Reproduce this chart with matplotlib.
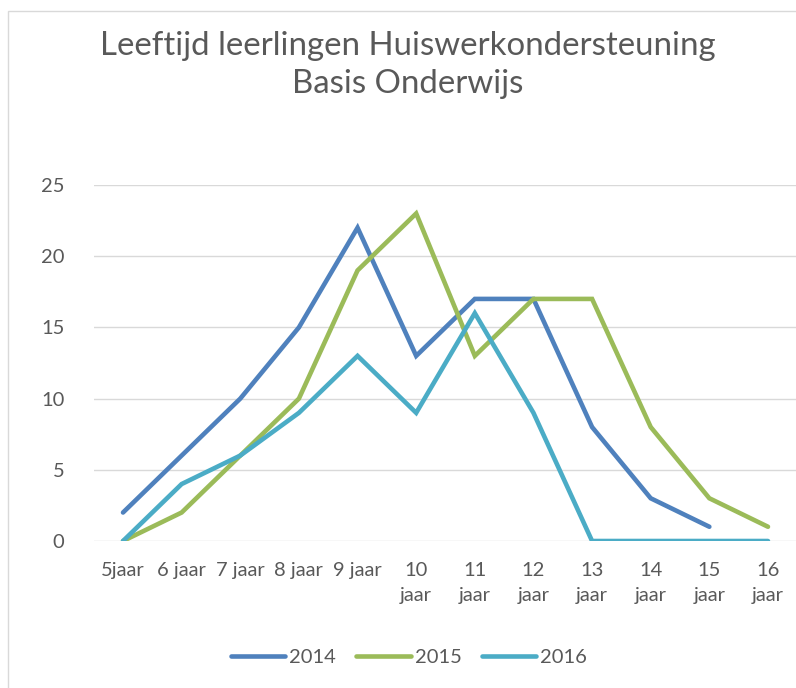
import numpy as np
import matplotlib
matplotlib.use("Agg")
import matplotlib.pyplot as plt
from matplotlib.patches import Rectangle

# Data.
categories = ["5jaar", "6 jaar", "7 jaar", "8 jaar", "9 jaar", "10\njaar",
              "11\njaar", "12\njaar", "13\njaar", "14\njaar", "15\njaar", "16\njaar"]
years = ["2014", "2015", "2016"]
values2014 = [2, 6, 10, 15, 22, 13, 17, 17, 8, 3, 1, None]
values2015 = [0, 2, 6, 10, 19, 23, 13, 17, 17, 8, 3, 1]
values2016 = [0, 4, 6, 9, 13, 9, 16, 9, 0, 0, 0, 0]
yticks = [0, 5, 10, 15, 20, 25]

colors = ["#4F81BD", "#9BBB59", "#4BACC6"]
textColor = "#595959"
gridColor = "#D9D9D9"

plt.rcParams["font.family"] = ["Lato", "DejaVu Sans"]

W, H = 796, 688
fig = plt.figure(figsize=(W/100, H/100), dpi=100)
fig.patch.set_facecolor("white")

# Chart frame (runs off the right and bottom edge in the reference).
fig.patches.append(Rectangle((8/W, -0.1), 1.2, 1 - 11/H + 0.1, transform=fig.transFigure,
                             facecolor="none", edgecolor=gridColor, linewidth=1.0))

left, right = 93.7/W, 797.3/W
bottom, top = 1 - 541/H, 1 - 185/H
ax = fig.add_axes([left, bottom, right - left, top - bottom])

x = np.arange(len(categories))
for series, label, color in zip([values2014, values2015, values2016], years, colors):
    y = np.array([np.nan if v is None else v for v in series], dtype=float)
    ax.plot(x, y, color=color, linewidth=3.3, solid_capstyle="round",
            solid_joinstyle="miter", label=label, zorder=3)

ax.set_xlim(-0.5, len(categories) - 0.5)
ax.set_ylim(0, 25)
ax.set_yticks(yticks)
ax.set_xticks(x)
ax.set_xticklabels(categories, linespacing=1.6)
ax.grid(axis="y", color=gridColor, linewidth=1.0)
ax.set_axisbelow(True)
for s in ax.spines.values():
    s.set_visible(False)
ax.tick_params(axis="both", length=0, colors=textColor, labelsize=14.5)
ax.tick_params(axis="x", pad=15)
ax.tick_params(axis="y", pad=21)

fig.text(408/W, 1 - 65/H, "Leeftijd leerlingen Huiswerkondersteuning\nBasis Onderwijs",
         ha="center", va="center", fontsize=23.8, color=textColor, linespacing=1.3)

leg = fig.legend(loc="center", bbox_to_anchor=(409/W, 1 - 657/H), ncol=3, frameon=False,
                 fontsize=14.5, labelcolor=textColor, handlelength=2.7, handletextpad=0.2,
                 columnspacing=1.0)

plt.savefig("out.png", dpi=100, facecolor="w")
plt.close()
